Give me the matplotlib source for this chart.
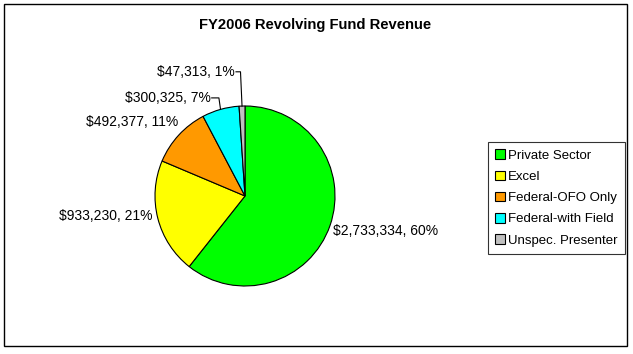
import numpy as np
import matplotlib
matplotlib.use("Agg")
import matplotlib.pyplot as plt
from matplotlib.patches import Rectangle

plt.rcParams['font.family'] = ['Liberation Sans', 'DejaVu Sans']

# data
categories = ["Private Sector", "Excel", "Federal-OFO Only", "Federal-with Field", "Unspec. Presenter"]
revenue = [2733334, 933230, 492377, 300325, 47313]
percents = [60, 21, 11, 7, 1]
colors = ["#00FF00", "#FFFF00", "#FF9900", "#00FFFF", "#C0C0C0"]

W, H = 633, 354
fig = plt.figure(figsize=(W / 100, H / 100), dpi=100)

# pie centre in pixels, radius in pixels
cx, cy, R = 245, 196, 90
ax = fig.add_axes([0, 0, 1, 1])
ax.axis('off')

wedges, _ = ax.pie(revenue, colors=colors, startangle=90, counterclock=False,
                   radius=1.0, center=(0, 0),
                   wedgeprops=dict(edgecolor='black', linewidth=0.8))
ax.set_xlim(-cx / R, (W - cx) / R)
ax.set_ylim(-(H - cy) / R, cy / R)
ax.set_aspect('auto')

# label placement (x, y, ha) in pie-radius units
label_pos = [(0.98, -0.39, 'left'), (-1.03, -0.22, 'right'), (-0.74, 0.82, 'right'),
             (-0.38, 1.09, 'right'), (-0.11, 1.38, 'right')]

for w, val, pct, (lx, ly, ha) in zip(wedges, revenue, percents, label_pos):
    ax.text(lx, ly, f"${val:,}, {pct}%", ha=ha, va='center', fontsize=10)

# leader lines for the two thin slices
for i, elbow in [(3, 0.08), (4, 0.05)]:
    w = wedges[i]
    mid = np.deg2rad((w.theta1 + w.theta2) / 2)
    ex, ey = np.cos(mid), np.sin(mid)
    lx, ly, _ = label_pos[i]
    ax.plot([lx + 0.01, lx + elbow + 0.01, ex], [ly, ly, ey], color='black', lw=0.8)

fig.text(315.5 / W, 1 - 25 / H, "FY2006 Revolving Fund Revenue", ha='center', va='center',
         fontsize=10.6, fontweight='bold')

leg = ax.legend(wedges, categories, loc='upper left', bbox_to_anchor=(488 / W, 1 - 142 / H),
                bbox_transform=fig.transFigure, borderaxespad=0, fontsize=9.5,
                frameon=True, fancybox=False, shadow=False, handlelength=0.72,
                handleheight=0.72, handletextpad=0.25, labelspacing=0.68, borderpad=0.55)
leg.get_frame().set_edgecolor('black')
leg.get_frame().set_linewidth(0.8)

fig.patches.append(Rectangle((4 / W, 1 - 346 / H), 623 / W, 342 / H, transform=fig.transFigure,
                             fill=False, edgecolor='black', linewidth=1))

fig.savefig("out.png", dpi=100)
